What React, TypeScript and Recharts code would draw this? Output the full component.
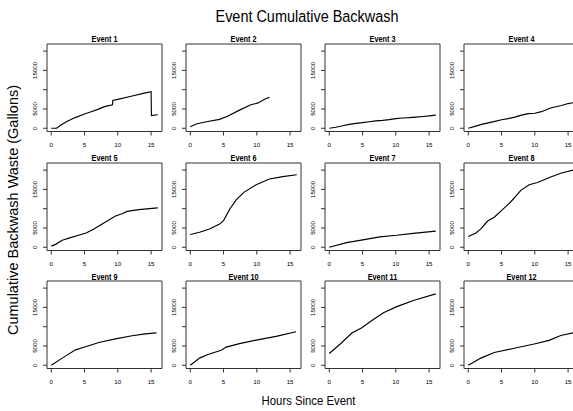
import React from "react";
import { LineChart, Line, XAxis, YAxis, ReferenceArea } from "recharts";

// hours since event, cumulative gallons
const event1: [number, number][] = [
  [0, 0], [0.8, 0], [1.5, 900], [2.5, 1900], [3.5, 2700], [5, 3700], [6, 4300], [7, 4900],
  [8, 5600], [9.2, 6100], [9.25, 7200], [10, 7500], [12, 8300], [14, 9100], [15, 9500],
  [15.05, 3300], [16, 3500],
];
const event2: [number, number][] = [
  [0, 400], [0.9, 1100], [2.4, 1700], [4.4, 2300], [5.6, 3100], [7.4, 4700], [9.1, 6100],
  [10.1, 6500], [11.4, 7700], [11.9, 8000],
];
const event3: [number, number][] = [
  [0, 0], [1, 250], [2, 650], [3, 1000], [4, 1250], [5, 1450], [6, 1700], [7, 1900], [8, 2050],
  [9, 2250], [10, 2500], [11, 2650], [12, 2750], [13, 2900], [14, 3050], [15, 3200], [16, 3400],
];
const event4: [number, number][] = [
  [0, 0], [1, 500], [2, 1000], [3, 1400], [4, 1800], [5, 2200], [6, 2500], [7, 2900],
  [8, 3400], [9, 3800], [10, 3900], [11, 4300], [12, 5000], [12.5, 5300], [13, 5500],
  [14, 5900], [15, 6400], [16, 6700],
];
const event5: [number, number][] = [
  [0, 300], [0.65, 750], [1.65, 1800], [2.9, 2500], [4.1, 3100], [5.25, 3700], [6.4, 4750],
  [7.65, 6000], [9.65, 8100], [10.65, 8700], [11.4, 9300], [13.15, 9750], [16, 10200],
];
const event6: [number, number][] = [
  [0, 3300], [1.4, 3900], [2.9, 4750], [4.4, 6000], [5, 6900], [5.9, 9800], [6.9, 12300],
  [8.1, 14300], [9.9, 16200], [11.9, 17700], [13.9, 18300], [16, 18800],
];
const event7: [number, number][] = [
  [0, 0], [2.6, 1200], [4.6, 1800], [7.6, 2700], [10.1, 3100], [12.6, 3600], [16, 4200],
];
const event8: [number, number][] = [
  [0, 2800], [1.15, 3700], [1.9, 4750], [2.9, 6800], [3.9, 7800], [5.15, 9750], [6.4, 11800],
  [7.9, 14750], [9.15, 16200], [10.4, 16800], [12.4, 18200], [13.9, 19200], [16, 20100],
];
const event9: [number, number][] = [
  [0, 0], [1.65, 1850], [3.65, 4000], [5.15, 4800], [7.15, 5900], [9.65, 6850], [12.15, 7650],
  [14.15, 8150], [15.8, 8400],
];
const event10: [number, number][] = [
  [0, 0], [1.4, 1850], [2.65, 2800], [4.65, 3900], [5.4, 4700], [7.4, 5600], [9.9, 6500],
  [12.9, 7500], [15.9, 8700],
];
const event11: [number, number][] = [
  [0, 3050], [1.65, 5500], [3.4, 8350], [4.9, 9700], [6.4, 11600], [8.15, 13600],
  [10.15, 15200], [12.65, 16800], [16, 18500],
];
const event12: [number, number][] = [
  [0, 0], [1.9, 1850], [3.9, 3300], [6.9, 4400], [9.9, 5500], [12.15, 6450], [13.9, 7700],
  [16, 8500],
];

const events = [
  event1, event2, event3, event4, event5, event6,
  event7, event8, event9, event10, event11, event12,
];

const hourTicks = [0, 5, 10, 15];
const gallonTicks = [0, 5000, 10000, 15000, 20000];
const gallonLabels = [0, 5000, 15000];

const X_DOMAIN: [number, number] = [-0.64, 16.64];
const Y_DOMAIN: [number, number] = [-840, 21840];

const colLeft = [47, 186, 325, 464];
const rowTop = [43.5, 162.5, 281];
const BOX_W = 115;
const BOX_H = 87.5;

const sans = "'Liberation Sans', Arial, Helvetica, sans-serif";

// Helvetica-ish narrow text: squeeze horizontally
function NarrowText({ x, y, size, sx, bold, children }: any) {
  return (
    <text
      transform={`translate(${x} ${y}) scale(${sx} 1)`}
      textAnchor="middle"
      fontSize={size}
      fontWeight={bold ? "bold" : "normal"}
      fontFamily={sans}
      fill="#000"
    >
      {children}
    </text>
  );
}

const YTick = (props: any) => {
  const { x, y, payload } = props;
  if (!gallonLabels.includes(payload.value)) return null;
  return (
    <text
      x={x}
      y={y}
      transform={`rotate(-90 ${x} ${y})`}
      textAnchor="middle"
      fontSize={6.2}
      fontFamily={sans}
      fill="#000"
    >
      {payload.value}
    </text>
  );
};

function Panel({ idx }: { idx: number }) {
  const data = events[idx].map(([h, g]) => ({ h, g }));
  const left = colLeft[idx % 4];
  const top = rowTop[Math.floor(idx / 4)];
  return (
    <div style={{ position: "absolute", left: left - 30, top: top - 15 }}>
      <LineChart
        width={30 + BOX_W + 10}
        height={15 + BOX_H + 20}
        data={data}
        margin={{ top: 15, right: 10, left: 8, bottom: 0 }}
      >
        <XAxis
          dataKey="h"
          type="number"
          domain={X_DOMAIN}
          ticks={hourTicks}
          allowDataOverflow
          axisLine={false}
          tickLine={{ stroke: "#333" }}
          tickSize={4}
          tickMargin={7}
          height={20}
          interval={0}
          tick={{ fontSize: 6.2, fill: "#000", fontFamily: sans }}
        />
        <YAxis
          dataKey="g"
          type="number"
          domain={Y_DOMAIN}
          ticks={gallonTicks}
          allowDataOverflow
          axisLine={false}
          tickLine={{ stroke: "#333" }}
          tickSize={4}
          tickMargin={6}
          width={22}
          interval={0}
          tick={<YTick />}
        />
        <ReferenceArea
          x1={X_DOMAIN[0]}
          x2={X_DOMAIN[1]}
          y1={Y_DOMAIN[0]}
          y2={Y_DOMAIN[1]}
          fill="none"
          stroke="#333"
          strokeWidth={1}
        />
        <Line
          type="linear"
          dataKey="g"
          stroke="#000"
          strokeWidth={1.15}
          dot={false}
          isAnimationActive={false}
        />
      </LineChart>
    </div>
  );
}

export default function App() {
  return (
    <div
      style={{
        position: "absolute",
        left: 0,
        top: 0,
        width: 573,
        height: 411,
        overflow: "hidden",
        background: "#fff",
      }}
    >
      {events.map((_, i) => (
        <Panel key={i} idx={i} />
      ))}
      <svg
        width={573}
        height={411}
        style={{ position: "absolute", left: 0, top: 0, pointerEvents: "none" }}
      >
        <NarrowText x={307} y={22} size={17} sx={0.85}>
          Event Cumulative Backwash
        </NarrowText>
        <NarrowText x={308.5} y={405} size={13.5} sx={0.84}>
          Hours Since Event
        </NarrowText>
        <text
          x={18}
          y={210}
          transform="rotate(-90 18 210)"
          textAnchor="middle"
          fontSize={14.5}
          fontFamily={sans}
          fill="#000"
        >
          Cumulative Backwash Waste (Gallons)
        </text>
        {events.map((_, i) => (
          <NarrowText
            key={i}
            x={colLeft[i % 4] + BOX_W / 2}
            y={rowTop[Math.floor(i / 4)] - 1.5}
            size={8.5}
            sx={0.86}
            bold
          >
            {`Event ${i + 1}`}
          </NarrowText>
        ))}
      </svg>
    </div>
  );
}
